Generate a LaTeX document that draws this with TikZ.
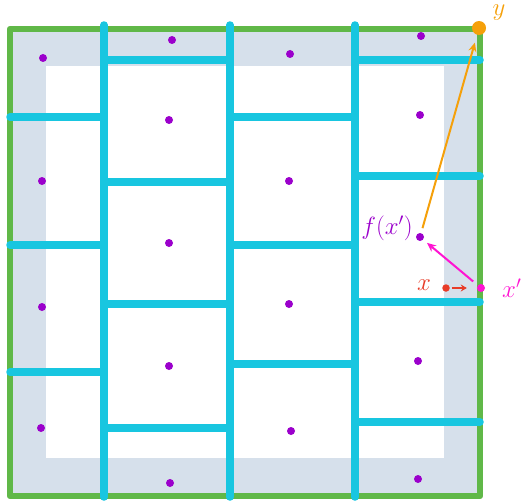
\documentclass[tikz,border=0pt]{standalone}
\usetikzlibrary{arrows.meta}
\definecolor{grn}{RGB}{96,184,72}
\definecolor{cyn}{RGB}{24,198,224}
\definecolor{gry}{RGB}{214,224,235}
\definecolor{prp}{RGB}{155,0,204}
\definecolor{org}{RGB}{245,160,10}
\definecolor{rd}{RGB}{232,60,40}
\definecolor{mgt}{RGB}{255,20,210}
\begin{document}
\begin{tikzpicture}[x=1pt,y=-1pt,
  wall/.style={cyn,line width=7.5pt,line cap=round},
  dot/.style={circle,fill=prp,inner sep=0pt,minimum size=8pt},
  lbl/.style={font=\fontsize{26}{30}\selectfont}]
\useasboundingbox (0,0) rectangle (522,503);
% gray band and white interior
\fill[gry] (10,29) rectangle (480,496);
\fill[white] (46,66) rectangle (444,458);
% green border
\draw[grn,line width=6.5pt,line join=round] (10,29) rectangle (480,496);
% vertical walls
\foreach \vx in {104,230,355} \draw[wall] (\vx,25) -- (\vx,497);
% horizontal walls
\foreach \hy in {117,245,372} \draw[wall] (10,\hy) -- (104,\hy);
\foreach \hy in {60,182,304,428} \draw[wall] (104,\hy) -- (230,\hy);
\foreach \hy in {117,245,364} \draw[wall] (230,\hy) -- (355,\hy);
\foreach \hy in {60,176,302,422} \draw[wall] (355,\hy) -- (480,\hy);
% dots
\node[dot] (a1) at (43,58) {};
\node[dot] (a2) at (42,181) {};
\node[dot] (a3) at (42,307) {};
\node[dot] (a4) at (41,428) {};
\node[dot] (b1) at (172,40) {};
\node[dot] (b2) at (169,120) {};
\node[dot] (b3) at (169,243) {};
\node[dot] (b4) at (169,366) {};
\node[dot] (b5) at (170,483) {};
\node[dot] (c1) at (290,54) {};
\node[dot] (c2) at (289,181) {};
\node[dot] (c3) at (289,304) {};
\node[dot] (c4) at (291,431) {};
\node[dot] (d1) at (421,36) {};
\node[dot] (d2) at (420,115) {};
\node[dot] (fx) at (420,237) {};
\node[dot] (d4) at (418,361) {};
\node[dot] (d5) at (418,479) {};
% special points
\node[circle,fill=rd,inner sep=0pt,minimum size=7.5pt] (x) at (446,288) {};
\node[circle,fill=mgt,inner sep=0pt,minimum size=8pt] (xp) at (481,288) {};
\node[circle,fill=org,inner sep=0pt,minimum size=14pt] (y) at (479,28) {};
% arrows
\draw[rd,line width=2pt,-{Stealth[length=6pt,width=7pt]},shorten <=2pt,shorten >=10pt] (x) -- (xp);
\draw[mgt,line width=2pt,-{Stealth[length=9pt,width=8pt]},shorten <=6pt,shorten >=5pt] (xp) -- (fx);
\draw[org,line width=2pt,-{Stealth[length=9pt,width=8pt]},shorten <=5pt,shorten >=8pt] (fx) -- (y);
% labels
\node[lbl,text=prp,anchor=east,inner sep=1pt] (lf) at (414,228) {$f(x')$};
\node[lbl,text=rd] (lx) at (424,285) {$x$};
\node[lbl,text=mgt,anchor=west,inner sep=1pt] (lxp) at (501,288) {$x'$};
\node[lbl,text=org,anchor=base,inner sep=0pt] (ly) at (499,16) {$y$};
\end{tikzpicture}
\end{document}
